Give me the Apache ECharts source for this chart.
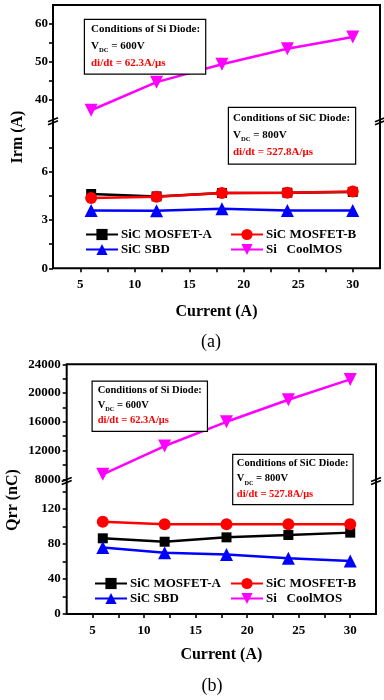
<!DOCTYPE html>
<html><head><meta charset="utf-8">
<script src="https://cdn.jsdelivr.net/npm/echarts@6/dist/echarts.min.js"></script>
<style>html,body{margin:0;padding:0;background:#fff}#c{width:384px;height:700px}</style>
</head><body><div id="c"></div>
<script>
// ---------- data ----------
const current = [6, 12, 18, 24, 30];
const irmMosA = [4.62, 4.47, 4.68, 4.70, 4.75];
const irmMosB = [4.37, 4.45, 4.68, 4.70, 4.78];
const irmSBD = [3.60, 3.57, 3.70, 3.60, 3.60];
const irmCool = [37.3, 44.7, 49.4, 53.5, 56.6];
const qrrMosA = [86.5, 82.6, 87.6, 90.3, 93.0];
const qrrMosB = [105.5, 102.5, 102.5, 102.5, 102.5];
const qrrSBD = [76.0, 70.0, 68.0, 63.6, 60.5];
const qrrCool = [8700, 12630, 16000, 19070, 21900];

const xTicks = [5, 7.5, 10, 12.5, 15, 17.5, 20, 22.5, 25, 27.5, 30];
const xLabels = [5, 10, 15, 20, 25, 30];
const irmUpTicks = [40, 45, 50, 55, 60];
const irmUpLabels = [40, 50, 60];
const irmLoTicks = [0, 1.5, 3, 4.5, 6, 7.5];
const irmLoLabels = [0, 3, 6];
const qrrUpTicks = [8000, 10000, 12000, 14000, 16000, 18000, 20000, 22000, 24000];
const qrrUpLabels = [8000, 12000, 16000, 20000, 24000];
const qrrLoTicks = [0, 20, 40, 60, 80, 100, 120, 140];
const qrrLoLabels = [0, 40, 80, 120];

const names = ['SiC MOSFET-A', 'SiC MOSFET-B', 'SiC SBD', 'Si   CoolMOS'];

// ---------- layout ----------
const FONT = '"Liberation Serif", "Times New Roman", serif';
const A = {left: 53, right: 4, top: 5, upH: 114, loTop: 123.5, loH: 144.8};
const B = {left: 66.7, right: 8, top: 364.3, upH: 115, loTop: 482.75, loH: 131.25};

function grids(L) {
  return [
    {left: L.left, right: L.right, top: L.top, height: L.loTop + L.loH - L.top, show: true,
     borderColor: '#000', borderWidth: 2, backgroundColor: 'transparent'},
    {left: L.left, right: L.right, top: L.top, height: L.upH, show: false},
    {left: L.left, right: L.right, top: L.loTop, height: L.loH, show: false}
  ];
}
const hiddenX = (g) => ({type: 'value', gridIndex: g, min: 2.5, max: 32.5, show: false});
const hiddenY = (g) => ({type: 'value', gridIndex: g, min: 0, max: 1, show: false});
const plain = (v) => String(v);
function shownX(g, gap) {
  return {type: 'value', gridIndex: g, min: 2.5, max: 32.5,
    name: 'Current (A)', nameLocation: 'middle', nameGap: gap,
    nameTextStyle: {fontFamily: FONT, fontWeight: 'bold', fontSize: 16, color: '#000'},
    axisLine: {show: false}, splitLine: {show: false},
    axisTick: {show: true, inside: false, length: 4, customValues: xTicks, lineStyle: {color: '#000', width: 1.6}},
    axisLabel: {customValues: xLabels, formatter: plain, margin: 10, fontFamily: FONT, fontWeight: 'bold', fontSize: 13, color: '#000'}};
}
function shownY(g, min, max, ticks, labels, fs, margin) {
  return {type: 'value', gridIndex: g, min: min, max: max,
    axisLine: {show: false}, splitLine: {show: false},
    axisTick: {show: true, inside: false, length: 4, customValues: ticks, lineStyle: {color: '#000', width: 1.6}},
    axisLabel: {customValues: labels, formatter: plain, margin: margin, fontFamily: FONT, fontWeight: 'bold', fontSize: fs, color: '#000'}};
}

function ser(name, xs, ys, xi, yi, symbol, size, color, rot) {
  return {type: 'line', name: name, xAxisIndex: xi, yAxisIndex: yi,
    data: xs.map((x, i) => [x, ys[i]]),
    symbol: symbol, symbolSize: size, symbolRotate: rot || 0,
    lineStyle: {color: color, width: 2.5}, itemStyle: {color: color},
    showSymbol: true, animation: false, z: 3};
}

const series = [
  ser(names[0], current, irmMosA, 2, 2, 'rect', 10, '#000000'),
  ser(names[1], current, irmMosB, 2, 2, 'circle', 12, '#ff0000'),
  ser(names[2], current, irmSBD, 2, 2, 'triangle', 13, '#0000ff'),
  ser(names[3], current, irmCool, 1, 1, 'triangle', 13, '#ff00ff', 180),
  ser(names[0], current, qrrMosA, 5, 5, 'rect', 10, '#000000'),
  ser(names[1], current, qrrMosB, 5, 5, 'circle', 12, '#ff0000'),
  ser(names[2], current, qrrSBD, 5, 5, 'triangle', 13, '#0000ff'),
  ser(names[3], current, qrrCool, 4, 4, 'triangle', 13, '#ff00ff', 180)
];

function legend(data, left, top) {
  return {data: data, orient: 'vertical', left: left, top: top, itemWidth: 32, itemHeight: 14,
    itemGap: 2, padding: 0, selectedMode: false,
    textStyle: {fontFamily: FONT, fontWeight: 'bold', fontSize: 13, color: '#000', padding: [0, 0, 0, -2]}};
}

function box(x, y, lines, fs, lh, pad) {
  const txt = '{t|Conditions of ' + lines[0] + ' Diode:}\n{t|V}{s|DC}{t| = ' + lines[1] + '}\n{r|di/dt = ' + lines[2] + '}';
  return {type: 'text', x: x, y: y, z: 100,
    style: {text: txt, fill: '#000', backgroundColor: '#fff', borderColor: '#000', borderWidth: 1.2,
      padding: pad, fontFamily: FONT, fontWeight: 'bold', fontSize: fs,
      rich: {
        t: {fontFamily: FONT, fontWeight: 'bold', fontSize: fs, fill: '#000', lineHeight: lh},
        s: {fontFamily: FONT, fontWeight: 'bold', fontSize: fs * 0.6, fill: '#000', lineHeight: lh, verticalAlign: 'bottom'},
        r: {fontFamily: FONT, fontWeight: 'bold', fontSize: fs, fill: '#ff0000', lineHeight: lh + 1}
      }}};
}
function brk(x, y) {
  const st = {stroke: '#000', lineWidth: 1.6};
  return [
    {type: 'line', z: 101, shape: {x1: x - 5, y1: y + 0.5, x2: x + 5, y2: y - 3.5}, style: st},
    {type: 'line', z: 101, shape: {x1: x - 5, y1: y + 3.5, x2: x + 5, y2: y - 0.5}, style: st}
  ];
}
const aBreakY = (A.top + A.upH + A.loTop) / 2;
const bBreakY = (B.top + B.upH + B.loTop) / 2;
const aRight = 384 - A.right, bRight = 384 - B.right;

const graphic = [
  box(85, 20, ['Si', '600V', '62.3A/μs'], 11, 16.5, [1, 5, 2, 6]),
  box(229, 108, ['SiC', '800V', '527.8A/μs'], 11, 16.5, [2, 5, 3, 4]),
  box(92.7, 381.7, ['Si', '600V', '62.3A/μs'], 10.5, 15, [1, 5, 2, 5]),
  box(233.3, 455, ['SiC', '800V', '527.8A/μs'], 10.5, 15, [1, 4, 2, 3.5]),
  {type: 'text', x: 18, y: 137, rotation: Math.PI / 2, z: 100,
   style: {text: 'Irm (A)', fontFamily: FONT, fontWeight: 'bold', fontSize: 16, fill: '#000', align: 'center', verticalAlign: 'middle'}},
  {type: 'text', x: 13, y: 500, rotation: Math.PI / 2, z: 100,
   style: {text: 'Qrr (nC)', fontFamily: FONT, fontWeight: 'bold', fontSize: 16, fill: '#000', align: 'center', verticalAlign: 'middle'}},
  {type: 'text', x: 211, y: 342, z: 100,
   style: {text: '(a)', fontFamily: FONT, fontSize: 18, fill: '#000', align: 'center', verticalAlign: 'middle'}},
  {type: 'text', x: 212, y: 686, z: 100,
   style: {text: '(b)', fontFamily: FONT, fontSize: 18, fill: '#000', align: 'center', verticalAlign: 'middle'}}
].concat(brk(A.left, aBreakY), brk(aRight, aBreakY), brk(B.left, bBreakY), brk(bRight, bBreakY));

const option = {
  backgroundColor: '#fff',
  animation: false,
  grid: grids(A).concat(grids(B)),
  xAxis: [hiddenX(0), hiddenX(1), shownX(2, 36), hiddenX(3), hiddenX(4), shownX(5, 33)],
  yAxis: [hiddenY(0), shownY(1, 35, 65, irmUpTicks, irmUpLabels, 13, 5), shownY(2, 0, 9, irmLoTicks, irmLoLabels, 13, 5),
          hiddenY(3), shownY(4, 8000, 24000, qrrUpTicks, qrrUpLabels, 13, 6), shownY(5, 0, 150, qrrLoTicks, qrrLoLabels, 13, 6)],
  legend: [
    legend([names[0], names[2]], 85, 228),
    legend([names[1], names[3]], 230, 228),
    legend([names[0], names[2]], 94, 577),
    legend([names[1], names[3]], 230, 577)
  ],
  series: series,
  graphic: graphic
};
const chart = echarts.init(document.getElementById('c'), null, {renderer: 'canvas'});
chart.setOption(option);
</script></body></html>
